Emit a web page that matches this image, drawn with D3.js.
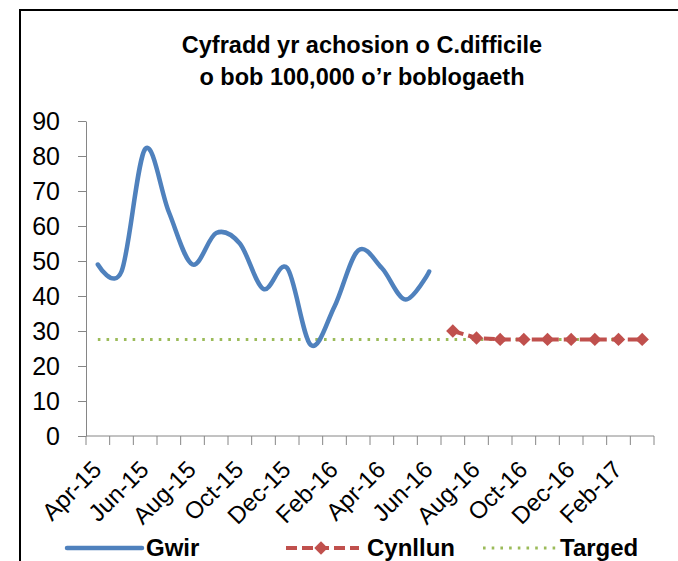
<!DOCTYPE html>
<html lang="en">
<head>
<meta charset="UTF-8">
<title>C.difficile</title>
<script src="https://cdn.jsdelivr.net/npm/d3@7"></script>
<style>
    body { margin: 0; background: #fff; }
    svg { display: block; font-family: "Liberation Sans", Arial, sans-serif; }
</style>
</head>
<body>
<div id="graphic"></div>
<script>
    // months shown on the x axis (Apr-15 .. Mar-17)
    var months = ['Apr-15','May-15','Jun-15','Jul-15','Aug-15','Sep-15','Oct-15','Nov-15','Dec-15','Jan-16','Feb-16','Mar-16',
                  'Apr-16','May-16','Jun-16','Jul-16','Aug-16','Sep-16','Oct-16','Nov-16','Dec-16','Jan-17','Feb-17','Mar-17'];

    // actual rate (Gwir), Apr-15 .. Jun-16
    var gwir = [49, 47, 82, 64, 49, 58, 55, 42, 48, 26, 37, 53, 48, 39, 47];

    // plan (Cynllun), Jul-16 .. Mar-17
    var cynllunStart = 15;
    var cynllun = [30, 28, 27.6, 27.6, 27.6, 27.6, 27.6, 27.6, 27.6];

    // target (Targed), every month
    var targed = 27.6;

    var yTicks = [0, 10, 20, 30, 40, 50, 60, 70, 80, 90];

    var width = 678, height = 561;
    var blue = '#4F81BD', red = '#C0504D', green = '#9BBB59', grey = '#868686';

    var svg = d3.select('#graphic')
                .append('svg')
                .attr('width', width)
                .attr('height', height);

    // outer frame
    svg.append('rect')
        .attr('x', 20).attr('y', 10)
        .attr('width', 700).attr('height', 600)
        .attr('fill', 'none')
        .attr('stroke', '#000')
        .attr('stroke-width', 2);

    // title
    var title = svg.append('text')
        .attr('text-anchor', 'middle')
        .attr('font-weight', 'bold')
        .attr('font-size', 23.5);
    title.append('tspan').attr('x', 362).attr('y', 53).text('Cyfradd yr achosion o C.difficile');
    title.append('tspan').attr('x', 362).attr('y', 85).text('o bob 100,000 o\u2019r boblogaeth');

    var x = d3.scaleBand()
        .domain(months)
        .range([86, 654]);

    var y = d3.scaleLinear()
        .domain([0, 90])
        .range([436, 121]);

    var cx = function(m) { return x(m) + x.bandwidth() / 2; };

    // y axis
    var yAxis = svg.append('g')
        .attr('transform', 'translate(86,0)')
        .call(d3.axisLeft(y).tickValues(yTicks).tickSize(8).tickPadding(18).tickSizeOuter(0));
    yAxis.select('.domain').attr('stroke', grey);
    yAxis.selectAll('.tick line').attr('stroke', grey);
    yAxis.selectAll('.tick text')
        .attr('font-size', 25)
        .attr('font-family', '"Liberation Sans", Arial, sans-serif')
        .attr('fill', '#000');

    // x axis: ticks at every category boundary
    var bounds = months.map(function(m) { return x(m); }).concat([x.range()[1]]);
    var xg = svg.append('g');
    xg.append('line')
        .attr('x1', 86).attr('x2', 654)
        .attr('y1', y(0)).attr('y2', y(0))
        .attr('stroke', grey);
    xg.selectAll('.xtick')
        .data(bounds)
        .join('line')
        .attr('class', 'xtick')
        .attr('x1', function(d) { return d; })
        .attr('x2', function(d) { return d; })
        .attr('y1', y(0))
        .attr('y2', y(0) + 9)
        .attr('stroke', grey);

    xg.selectAll('.xlabel')
        .data(months.filter(function(m, i) { return i % 2 === 0; }))
        .join('text')
        .attr('class', 'xlabel')
        .attr('transform', function(d) { return 'translate(' + (cx(d) + 5) + ',471) rotate(-45)'; })
        .attr('text-anchor', 'end')
        .attr('font-size', 24)
        .text(function(d) { return d; });

    // target line
    var line = d3.line()
        .x(function(d) { return cx(d.m); })
        .y(function(d) { return y(d.v); });

    svg.append('path')
        .datum(months.map(function(m) { return { m: m, v: targed }; }))
        .attr('d', line)
        .attr('fill', 'none')
        .attr('stroke', green)
        .attr('stroke-width', 3)
        .attr('stroke-dasharray', '2.6,6.1');

    // actual (smoothed)
    svg.append('path')
        .datum(gwir.map(function(v, i) { return { m: months[i], v: v }; }))
        .attr('d', line.curve(d3.curveCardinal.tension(0)))
        .attr('fill', 'none')
        .attr('stroke', blue)
        .attr('stroke-width', 4.5)
        .attr('stroke-linecap', 'round')
        .attr('stroke-linejoin', 'round');
    line.curve(d3.curveLinear);

    // plan
    var planData = cynllun.map(function(v, i) { return { m: months[cynllunStart + i], v: v }; });
    svg.append('path')
        .datum(planData)
        .attr('d', line)
        .attr('fill', 'none')
        .attr('stroke', red)
        .attr('stroke-width', 4)
        .attr('stroke-dasharray', '11,5');

    var diamond = d3.symbol().type(d3.symbolDiamond2).size(115);
    svg.selectAll('.marker')
        .data(planData)
        .join('path')
        .attr('class', 'marker')
        .attr('d', diamond)
        .attr('transform', function(d) { return 'translate(' + cx(d.m) + ',' + y(d.v) + ')'; })
        .attr('fill', red);

    // legend
    var lg = svg.append('g').attr('font-weight', 'bold').attr('font-size', 24);
    lg.append('line').attr('x1', 67).attr('x2', 142).attr('y1', 548).attr('y2', 548)
        .attr('stroke', blue).attr('stroke-width', 4.5).attr('stroke-linecap', 'round');
    lg.append('text').attr('x', 146).attr('y', 556).text('Gwir');

    lg.append('line').attr('x1', 286).attr('x2', 359).attr('y1', 548).attr('y2', 548)
        .attr('stroke', red).attr('stroke-width', 4).attr('stroke-dasharray', '11,5');
    lg.append('path').attr('d', diamond)
        .attr('transform', 'translate(321,548)')
        .attr('fill', red);
    lg.append('text').attr('x', 367).attr('y', 556).text('Cynllun');

    lg.append('line').attr('x1', 483).attr('x2', 556).attr('y1', 548).attr('y2', 548)
        .attr('stroke', green).attr('stroke-width', 3).attr('stroke-dasharray', '2.6,6.1');
    lg.append('text').attr('x', 560).attr('y', 556).text('Targed');
</script>
</body>
</html>
